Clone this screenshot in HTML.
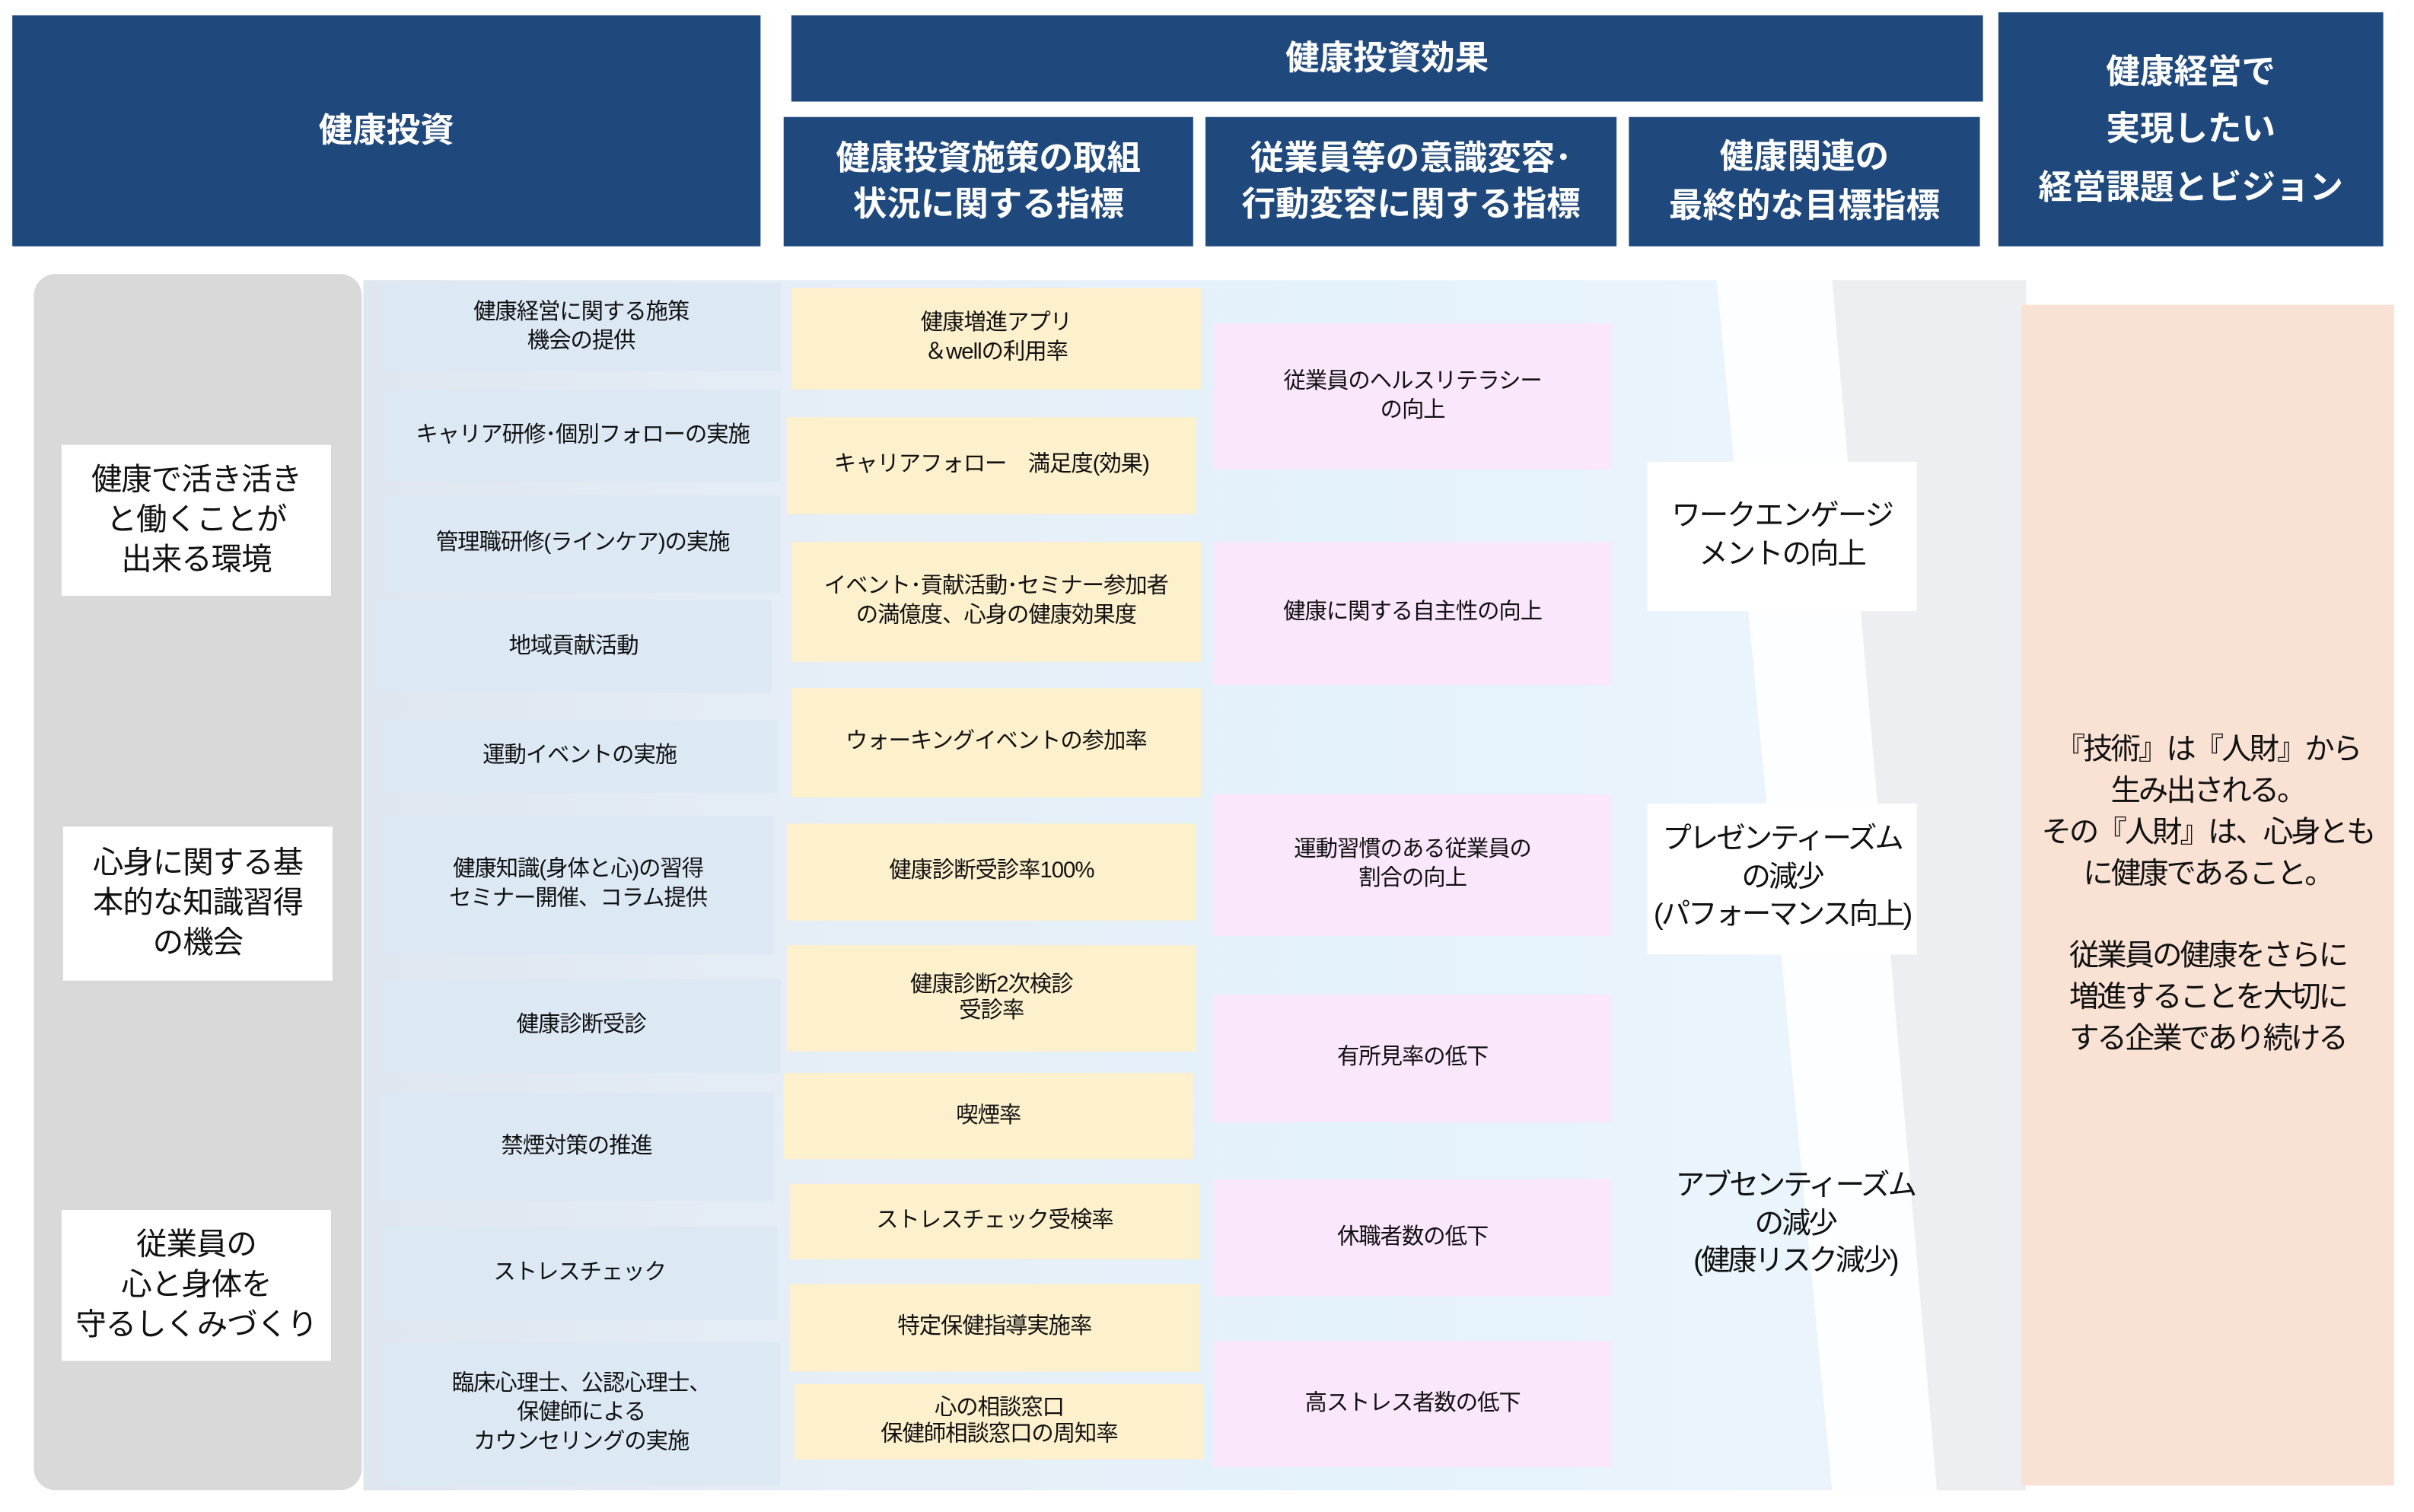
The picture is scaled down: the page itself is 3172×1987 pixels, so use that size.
<!DOCTYPE html>
<html><head><meta charset="utf-8"><style>
body{margin:0;width:3172px;height:1987px;overflow:hidden;background:#fff;font-family:"Liberation Sans","Noto Sans CJK JP",sans-serif}
#w{position:absolute;left:0;top:0;width:1568px;height:982px;transform:scale(2.0230);transform-origin:0 0}
.b{position:absolute;display:flex;align-items:center;justify-content:center;text-align:center;color:#111;font-size:14.5px;line-height:1.3;white-space:nowrap;letter-spacing:-0.5px}
.h{background:#1f497d;color:#fff;font-weight:bold;font-size:22px;letter-spacing:0}
.c1{background:#dce8f4}.c2{background:#fdf0cc}.c3{background:#fbe7fc}
.wt{background:#fff;font-size:20px}
</style></head><body><div id="w">
<svg style="position:absolute;left:0;top:0" width="1568" height="982">
<defs><linearGradient id="g" x1="0" x2="1" y1="0" y2="0"><stop offset="0" stop-color="#dfe6ef"/><stop offset="0.3" stop-color="#e6eef7"/><stop offset="0.6" stop-color="#e4f2fc"/><stop offset="1" stop-color="#eef5fb"/></linearGradient></defs>
<rect x="236" y="182" width="1080" height="786" fill="url(#g)"/>
<polygon points="1190,182 1316,182 1316,968 1258,968" fill="#eceef2"/>
<polygon points="1115,182 1190,182 1258,968 1190,968" fill="#fdfeff"/>
<rect x="22" y="178" width="213" height="790" rx="14" fill="#d9d9d9"/>
</svg>
<div class="b h" style="left:8px;top:10px;width:486px;height:150px">健康投資</div>
<div class="b h" style="left:514px;top:10px;width:774px;height:56px">健康投資効果</div>
<div class="b h" style="left:509px;top:76px;width:266px;height:84px;line-height:1.35">健康投資施策の取組<br>状況に関する指標</div>
<div class="b h" style="left:783px;top:76px;width:267px;height:84px;line-height:1.35">従業員等の意識変容･<br>行動変容に関する指標</div>
<div class="b h" style="left:1058px;top:76px;width:228px;height:84px;line-height:1.45">健康関連の<br>最終的な目標指標</div>
<div class="b h" style="left:1298px;top:8px;width:250px;height:152px;line-height:1.7">健康経営で<br>実現したい<br>経営課題とビジョン</div>

<div class="b wt" style="left:40px;top:289px;width:175px;height:98px">健康で活き活き<br>と働くことが<br>出来る環境</div>
<div class="b wt" style="left:41px;top:537px;width:175px;height:100px">心身に関する基<br>本的な知識習得<br>の機会</div>
<div class="b wt" style="left:40px;top:786px;width:175px;height:98px">従業員の<br>心と身体を<br>守るしくみづくり</div>

<div class="b c1" style="left:248px;top:184px;width:259px;height:57px">健康経営に関する施策<br>機会の提供</div>
<div class="b c1" style="left:250px;top:253px;width:257px;height:60px">キャリア研修･個別フォローの実施</div>
<div class="b c1" style="left:250px;top:322px;width:257px;height:63px">管理職研修(ラインケア)の実施</div>
<div class="b c1" style="left:244px;top:390px;width:257px;height:60px">地域貢献活動</div>
<div class="b c1" style="left:248px;top:468px;width:257px;height:47px">運動イベントの実施</div>
<div class="b c1" style="left:248px;top:530px;width:255px;height:90px">健康知識(身体と心)の習得<br>セミナー開催、コラム提供</div>
<div class="b c1" style="left:248px;top:636px;width:259px;height:61px">健康診断受診</div>
<div class="b c1" style="left:246px;top:710px;width:257px;height:70px">禁煙対策の推進</div>
<div class="b c1" style="left:248px;top:797px;width:257px;height:60px">ストレスチェック</div>
<div class="b c1" style="left:248px;top:872px;width:259px;height:93px">臨床心理士、公認心理士、<br>保健師による<br>カウンセリングの実施</div>

<div class="b c2" style="left:514px;top:187px;width:266px;height:66px">健康増進アプリ<br>＆wellの利用率</div>
<div class="b c2" style="left:511px;top:271px;width:266px;height:63px">キャリアフォロー　満足度(効果)</div>
<div class="b c2" style="left:514px;top:352px;width:266px;height:78px">イベント･貢献活動･セミナー参加者<br>の満億度、心身の健康効果度</div>
<div class="b c2" style="left:514px;top:447px;width:266px;height:71px">ウォーキングイベントの参加率</div>
<div class="b c2" style="left:511px;top:535px;width:266px;height:63px">健康診断受診率100%</div>
<div class="b c2" style="left:511px;top:614px;width:266px;height:69px;line-height:1.15">健康診断2次検診<br>受診率</div>
<div class="b c2" style="left:509px;top:697px;width:266px;height:56px">喫煙率</div>
<div class="b c2" style="left:513px;top:769px;width:266px;height:49px">ストレスチェック受検率</div>
<div class="b c2" style="left:513px;top:834px;width:266px;height:57px">特定保健指導実施率</div>
<div class="b c2" style="left:516px;top:899px;width:266px;height:49px;line-height:1.15">心の相談窓口<br>保健師相談窓口の周知率</div>

<div class="b c3" style="left:788px;top:210px;width:259px;height:95px">従業員のヘルスリテラシー<br>の向上</div>
<div class="b c3" style="left:788px;top:352px;width:259px;height:93px">健康に関する自主性の向上</div>
<div class="b c3" style="left:788px;top:516px;width:259px;height:92px">運動習慣のある従業員の<br>割合の向上</div>
<div class="b c3" style="left:788px;top:646px;width:259px;height:83px">有所見率の低下</div>
<div class="b c3" style="left:788px;top:766px;width:259px;height:76px">休職者数の低下</div>
<div class="b c3" style="left:788px;top:871px;width:259px;height:82px">高ストレス者数の低下</div>

<div class="b wt" style="left:1070px;top:300px;width:175px;height:97px;font-size:19px;letter-spacing:-1px">ワークエンゲージ<br>メントの向上</div>
<div class="b wt" style="left:1070px;top:522px;width:175px;height:98px;font-size:19px;letter-spacing:-1.5px">プレゼンティーズム<br>の減少<br>(パフォーマンス向上)</div>
<div class="b" style="left:1080px;top:750px;width:172px;height:92px;font-size:19px;letter-spacing:-1.5px">アブセンティーズム<br>の減少<br>(健康リスク減少)</div>

<div class="b" style="left:1313px;top:198px;width:242px;height:767px;background:#f9e1d4;font-size:19.5px;line-height:1.38;letter-spacing:-1.5px">『技術』は『人財』から<br>生み出される。<br>その『人財』は、心身とも<br>に健康であること。<br><br>従業員の健康をさらに<br>増進することを大切に<br>する企業であり続ける</div>
</div></body></html>
